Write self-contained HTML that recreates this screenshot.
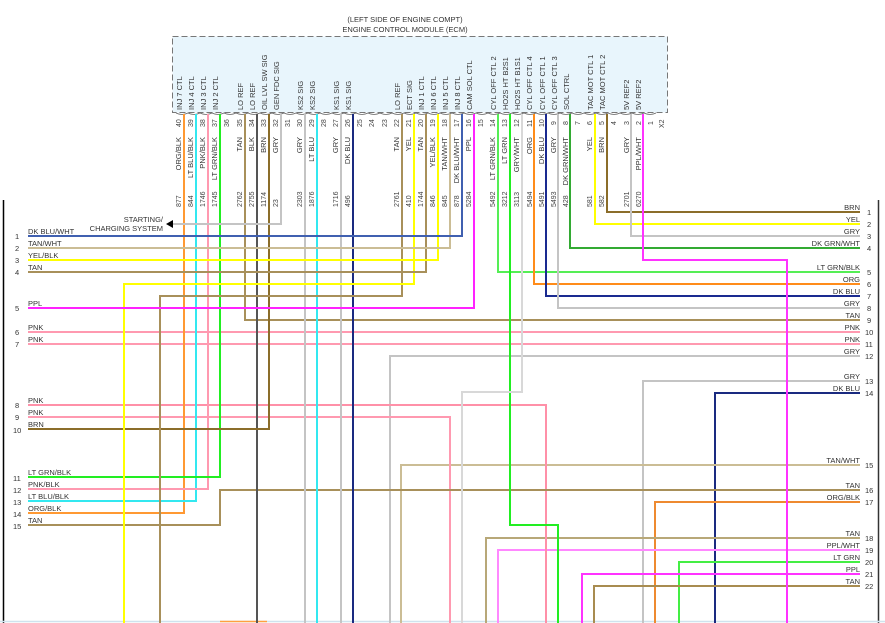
<!DOCTYPE html>
<html><head><meta charset="utf-8"><style>
html,body{margin:0;padding:0;background:#fff;}
svg{display:block;font-family:"Liberation Sans",sans-serif;}
.p{font-size:7.5px;fill:#333;}
.r{font-size:7.5px;fill:#333;}
.n{font-size:7px;fill:#444;}
.w{fill:none;stroke-width:2;}
</style></head><body>
<svg width="885" height="623" viewBox="0 0 885 623" xmlns="http://www.w3.org/2000/svg">
<rect width="885" height="623" fill="#fff"/>
<text x="405" y="22" text-anchor="middle" class="r">(LEFT SIDE OF ENGINE COMPT)</text>
<text x="405" y="32" text-anchor="middle" class="r">ENGINE CONTROL MODULE (ECM)</text>
<rect x="172.5" y="36.5" width="495" height="76" fill="#e8f5fc" stroke="#777" stroke-dasharray="6,3"/>
<line x1="3.5" y1="200" x2="3.5" y2="623" stroke="#000" stroke-width="1.5"/>
<line x1="878.5" y1="200" x2="878.5" y2="623" stroke="#333" stroke-width="1.5"/>
<line x1="0" y1="621.5" x2="885" y2="621.5" stroke="#cfe3ee" stroke-width="1.5"/>
<line x1="220" y1="621.5" x2="267" y2="621.5" stroke="#ffa040" stroke-width="1.5"/>

<!-- pin names -->
<g class="p">
<text transform="translate(182,110) rotate(-90)">INJ 7 CTL</text>
<text transform="translate(194,110) rotate(-90)">INJ 4 CTL</text>
<text transform="translate(206,110) rotate(-90)">INJ 3 CTL</text>
<text transform="translate(218,110) rotate(-90)">INJ 2 CTL</text>
<text transform="translate(243,110) rotate(-90)">LO REF</text>
<text transform="translate(255,110) rotate(-90)">LO REF</text>
<text transform="translate(267,110) rotate(-90)">OIL LVL SW SIG</text>
<text transform="translate(279,110) rotate(-90)">GEN FDC SIG</text>
<text transform="translate(303,110) rotate(-90)">KS2 SIG</text>
<text transform="translate(315,110) rotate(-90)">KS2 SIG</text>
<text transform="translate(339,110) rotate(-90)">KS1 SIG</text>
<text transform="translate(351,110) rotate(-90)">KS1 SIG</text>
<text transform="translate(400,110) rotate(-90)">LO REF</text>
<text transform="translate(412,110) rotate(-90)">ECT SIG</text>
<text transform="translate(424,110) rotate(-90)">INJ 1 CTL</text>
<text transform="translate(436,110) rotate(-90)">INJ 6 CTL</text>
<text transform="translate(448,110) rotate(-90)">INJ 5 CTL</text>
<text transform="translate(460,110) rotate(-90)">INJ 8 CTL</text>
<text transform="translate(472,110) rotate(-90)">CAM SOL CTL</text>
<text transform="translate(496,110) rotate(-90)">CYL OFF CTL 2</text>
<text transform="translate(508,110) rotate(-90)">HO2S HT B2S1</text>
<text transform="translate(520,110) rotate(-90)">HO2S HT B1S1</text>
<text transform="translate(532,110) rotate(-90)">CYL OFF CTL 4</text>
<text transform="translate(545,110) rotate(-90)">CYL OFF CTL 1</text>
<text transform="translate(557,110) rotate(-90)">CYL OFF CTL 3</text>
<text transform="translate(569,110) rotate(-90)">SOL CTRL</text>
<text transform="translate(593,110) rotate(-90)">TAC MOT CTL 1</text>
<text transform="translate(605,110) rotate(-90)">TAC MOT CTL 2</text>
<text transform="translate(629,110) rotate(-90)">5V REF2</text>
<text transform="translate(641,110) rotate(-90)">5V REF2</text>
</g>
<!-- connector arcs -->
<g fill="none" stroke="#666" stroke-width="0.8">
<path d="M176,113 q6,3 12,0 q6,3 12,0 q6,3 12,0 q6,3 12,0 q6,3 12,0 q6,3 12,0 q6,3 12,0 q6,3 12,0 q6,3 12,0 q6,3 12,0 q6,3 12,0 q6,3 12,0 q6,3 12,0 q6,3 12,0 q6,3 12,0 q6,3 12,0 q6,3 12,0 q6,3 12,0 q6,3 12,0 q6,3 12,0 q6,3 12,0 q6,3 12,0 q6,3 12,0 q6,3 12,0 q6,3 12,0 q6,3 12,0 q6,3 12,0 q6,3 12,0 q6,3 12,0 q6,3 12,0 q6,3 12,0 q6,3 12,0 q6,3 12,0 q6,3 12,0 q6,3 12,0 q6,3 12,0 q6,3 12,0 q6,3 12,0 q6,3 12,0 q6,3 12,0"/>
</g>
<!-- pin numbers -->
<g class="n">
<text transform="translate(181,127) rotate(-90)">40</text>
<text transform="translate(193,127) rotate(-90)">39</text>
<text transform="translate(205,127) rotate(-90)">38</text>
<text transform="translate(217,127) rotate(-90)">37</text>
<text transform="translate(229,127) rotate(-90)">36</text>
<text transform="translate(242,127) rotate(-90)">35</text>
<text transform="translate(254,127) rotate(-90)">34</text>
<text transform="translate(266,127) rotate(-90)">33</text>
<text transform="translate(278,127) rotate(-90)">32</text>
<text transform="translate(290,127) rotate(-90)">31</text>
<text transform="translate(302,127) rotate(-90)">30</text>
<text transform="translate(314,127) rotate(-90)">29</text>
<text transform="translate(326,127) rotate(-90)">28</text>
<text transform="translate(338,127) rotate(-90)">27</text>
<text transform="translate(350,127) rotate(-90)">26</text>
<text transform="translate(362,127) rotate(-90)">25</text>
<text transform="translate(374,127) rotate(-90)">24</text>
<text transform="translate(387,127) rotate(-90)">23</text>
<text transform="translate(399,127) rotate(-90)">22</text>
<text transform="translate(411,127) rotate(-90)">21</text>
<text transform="translate(423,127) rotate(-90)">20</text>
<text transform="translate(435,127) rotate(-90)">19</text>
<text transform="translate(447,127) rotate(-90)">18</text>
<text transform="translate(459,127) rotate(-90)">17</text>
<text transform="translate(471,127) rotate(-90)">16</text>
<text transform="translate(483,127) rotate(-90)">15</text>
<text transform="translate(495,127) rotate(-90)">14</text>
<text transform="translate(507,127) rotate(-90)">13</text>
<text transform="translate(519,127) rotate(-90)">12</text>
<text transform="translate(532,127) rotate(-90)">11</text>
<text transform="translate(544,127) rotate(-90)">10</text>
<text transform="translate(556,125) rotate(-90)">9</text>
<text transform="translate(568,125) rotate(-90)">8</text>
<text transform="translate(580,125) rotate(-90)">7</text>
<text transform="translate(592,125) rotate(-90)">6</text>
<text transform="translate(604,125) rotate(-90)">5</text>
<text transform="translate(616,125) rotate(-90)">4</text>
<text transform="translate(629,125) rotate(-90)">3</text>
<text transform="translate(641,125) rotate(-90)">2</text>
<text transform="translate(653,125) rotate(-90)">1</text>
<text transform="translate(664,128) rotate(-90)">X2</text>
</g>
<!-- wire color labels (end aligned at top y=137) -->
<g class="p" text-anchor="end">
<text transform="translate(181,137) rotate(-90)">ORG/BLK</text>
<text transform="translate(193,137) rotate(-90)">LT BLU/BLK</text>
<text transform="translate(205,137) rotate(-90)">PNK/BLK</text>
<text transform="translate(217,137) rotate(-90)">LT GRN/BLK</text>
<text transform="translate(242,137) rotate(-90)">TAN</text>
<text transform="translate(254,137) rotate(-90)">BLK</text>
<text transform="translate(266,137) rotate(-90)">BRN</text>
<text transform="translate(278,137) rotate(-90)">GRY</text>
<text transform="translate(302,137) rotate(-90)">GRY</text>
<text transform="translate(314,137) rotate(-90)">LT BLU</text>
<text transform="translate(338,137) rotate(-90)">GRY</text>
<text transform="translate(350,137) rotate(-90)">DK BLU</text>
<text transform="translate(399,137) rotate(-90)">TAN</text>
<text transform="translate(411,137) rotate(-90)">YEL</text>
<text transform="translate(423,137) rotate(-90)">TAN</text>
<text transform="translate(435,137) rotate(-90)">YEL/BLK</text>
<text transform="translate(447,137) rotate(-90)">TAN/WHT</text>
<text transform="translate(459,137) rotate(-90)">DK BLU/WHT</text>
<text transform="translate(471,137) rotate(-90)">PPL</text>
<text transform="translate(495,137) rotate(-90)">LT GRN/BLK</text>
<text transform="translate(507,137) rotate(-90)">LT GRN</text>
<text transform="translate(519,137) rotate(-90)">GRY/WHT</text>
<text transform="translate(532,137) rotate(-90)">ORG</text>
<text transform="translate(544,137) rotate(-90)">DK BLU</text>
<text transform="translate(556,137) rotate(-90)">GRY</text>
<text transform="translate(568,137) rotate(-90)">DK GRN/WHT</text>
<text transform="translate(592,137) rotate(-90)">YEL</text>
<text transform="translate(604,137) rotate(-90)">BRN</text>
<text transform="translate(629,137) rotate(-90)">GRY</text>
<text transform="translate(641,137) rotate(-90)">PPL/WHT</text>
</g>
<!-- circuit numbers -->
<g class="n">
<text transform="translate(181,207) rotate(-90)">877</text>
<text transform="translate(193,207) rotate(-90)">844</text>
<text transform="translate(205,207) rotate(-90)">1746</text>
<text transform="translate(217,207) rotate(-90)">1745</text>
<text transform="translate(242,207) rotate(-90)">2762</text>
<text transform="translate(254,207) rotate(-90)">2755</text>
<text transform="translate(266,207) rotate(-90)">1174</text>
<text transform="translate(278,207) rotate(-90)">23</text>
<text transform="translate(302,207) rotate(-90)">2303</text>
<text transform="translate(314,207) rotate(-90)">1876</text>
<text transform="translate(338,207) rotate(-90)">1716</text>
<text transform="translate(350,207) rotate(-90)">496</text>
<text transform="translate(399,207) rotate(-90)">2761</text>
<text transform="translate(411,207) rotate(-90)">410</text>
<text transform="translate(423,207) rotate(-90)">1744</text>
<text transform="translate(435,207) rotate(-90)">846</text>
<text transform="translate(447,207) rotate(-90)">845</text>
<text transform="translate(459,207) rotate(-90)">878</text>
<text transform="translate(471,207) rotate(-90)">5284</text>
<text transform="translate(495,207) rotate(-90)">5492</text>
<text transform="translate(507,207) rotate(-90)">3212</text>
<text transform="translate(519,207) rotate(-90)">3113</text>
<text transform="translate(532,207) rotate(-90)">5494</text>
<text transform="translate(544,207) rotate(-90)">5491</text>
<text transform="translate(556,207) rotate(-90)">5493</text>
<text transform="translate(568,207) rotate(-90)">428</text>
<text transform="translate(592,207) rotate(-90)">581</text>
<text transform="translate(604,207) rotate(-90)">582</text>
<text transform="translate(629,207) rotate(-90)">2701</text>
<text transform="translate(641,207) rotate(-90)">6270</text>
</g>

<!-- wires -->
<g class="w">
<!-- right-row wires ending at bottom / from right -->
<polyline points="860,356 390,356 390,623" stroke="#c4c4c4"/>
<polyline points="860,381 643,381 643,623" stroke="#c4c4c4"/>
<polyline points="860,393 715,393 715,623" stroke="#1a2a80"/>
<polyline points="860,465 401,465 401,623" stroke="#cbbd95"/>
<polyline points="860,502 655,502 655,623" stroke="#ee8a30"/>
<polyline points="860,538 486,538 486,623" stroke="#b8a878"/>
<polyline points="860,550 498,550 498,623" stroke="#ff88ff"/>
<polyline points="860,562 679,562 679,623" stroke="#44ee44"/>
<polyline points="860,574 582,574 582,623" stroke="#ff33ff"/>
<polyline points="860,586 594,586 594,623" stroke="#a88c50"/>
<!-- left rows -->
<polyline points="28,332 860,332" stroke="#ff99b0"/>
<polyline points="28,344 860,344" stroke="#ff99b0"/>
<polyline points="28,405 546,405 546,623" stroke="#ff90a8"/>
<polyline points="28,417 450,417 450,623" stroke="#ff99b0"/>
<polyline points="28,525 220,525 220,490 860,490" stroke="#a8905a"/>
<!-- pin wires -->
<polyline points="184,114 184,513 28,513" stroke="#ff9933"/>
<polyline points="196,114 196,501 28,501" stroke="#33e8f0"/>
<polyline points="208,114 208,489 28,489" stroke="#ff99b0"/>
<polyline points="220,114 220,477 28,477" stroke="#22ee22"/>
<polyline points="245,114 245,320 860,320" stroke="#a8905a"/>
<polyline points="257,114 257,623" stroke="#555"/>
<polyline points="269,114 269,429 28,429" stroke="#8b6d2a"/>
<polyline points="281,114 281,224 172,224" stroke="#c4c4c4"/>
<polyline points="305,114 305,623" stroke="#c4c4c4"/>
<polyline points="317,114 317,623" stroke="#33e8f0"/>
<polyline points="341,114 341,623" stroke="#c4c4c4"/>
<polyline points="353,114 353,623" stroke="#1a2a80"/>
<polyline points="402,114 402,296 160,296 160,623" stroke="#a8905a"/>
<polyline points="414,114 414,284 124,284 124,623" stroke="#ffff00"/>
<polyline points="426,114 426,272 28,272" stroke="#a8905a"/>
<polyline points="438,114 438,260 28,260" stroke="#ffff00"/>
<polyline points="450,114 450,248 28,248" stroke="#cbbd95"/>
<polyline points="462,114 462,236 28,236" stroke="#4060b0"/>
<polyline points="474,114 474,308 28,308" stroke="#ff22ff"/>
<polyline points="498,114 498,272 860,272" stroke="#55ee55"/>
<polyline points="510,114 510,525 558,525 558,623" stroke="#22ee22"/>
<polyline points="522,114 522,392 462,392 462,623" stroke="#d8d8d8"/>
<polyline points="534,114 534,284 860,284" stroke="#ff8c1a"/>
<polyline points="546,114 546,296 860,296" stroke="#1a2a90"/>
<polyline points="558,114 558,308 860,308" stroke="#c4c4c4"/>
<polyline points="570,114 570,248 860,248" stroke="#33aa33"/>
<polyline points="595,114 595,224 860,224" stroke="#ffff00"/>
<polyline points="607,114 607,212 860,212" stroke="#8b6d2a"/>
<polyline points="631,114 631,236 860,236" stroke="#c4c4c4"/>
<polyline points="643,114 643,260 787,260 787,623" stroke="#ff33ff"/>
</g>
<polygon points="166,224 173,220 173,228" fill="#000"/>
<text x="163" y="222" text-anchor="end" class="r">STARTING/</text>
<text x="163" y="231" text-anchor="end" class="r">CHARGING SYSTEM</text>

<!-- left labels -->
<g class="r">
<text x="28" y="234">DK BLU/WHT</text><text x="15" y="239">1</text>
<text x="28" y="246">TAN/WHT</text><text x="15" y="251">2</text>
<text x="28" y="258">YEL/BLK</text><text x="15" y="263">3</text>
<text x="28" y="270">TAN</text><text x="15" y="275">4</text>
<text x="28" y="306">PPL</text><text x="15" y="311">5</text>
<text x="28" y="330">PNK</text><text x="15" y="335">6</text>
<text x="28" y="342">PNK</text><text x="15" y="347">7</text>
<text x="28" y="403">PNK</text><text x="15" y="408">8</text>
<text x="28" y="415">PNK</text><text x="15" y="420">9</text>
<text x="28" y="427">BRN</text><text x="13" y="433">10</text>
<text x="28" y="475">LT GRN/BLK</text><text x="13" y="481">11</text>
<text x="28" y="487">PNK/BLK</text><text x="13" y="493">12</text>
<text x="28" y="499">LT BLU/BLK</text><text x="13" y="505">13</text>
<text x="28" y="511">ORG/BLK</text><text x="13" y="517">14</text>
<text x="28" y="523">TAN</text><text x="13" y="529">15</text>
</g>
<!-- right labels -->
<g class="r" text-anchor="end">
<text x="860" y="210">BRN</text>
<text x="860" y="222">YEL</text>
<text x="860" y="234">GRY</text>
<text x="860" y="246">DK GRN/WHT</text>
<text x="860" y="270">LT GRN/BLK</text>
<text x="860" y="282">ORG</text>
<text x="860" y="294">DK BLU</text>
<text x="860" y="306">GRY</text>
<text x="860" y="318">TAN</text>
<text x="860" y="330">PNK</text>
<text x="860" y="342">PNK</text>
<text x="860" y="354">GRY</text>
<text x="860" y="379">GRY</text>
<text x="860" y="391">DK BLU</text>
<text x="860" y="463">TAN/WHT</text>
<text x="860" y="488">TAN</text>
<text x="860" y="500">ORG/BLK</text>
<text x="860" y="536">TAN</text>
<text x="860" y="548">PPL/WHT</text>
<text x="860" y="560">LT GRN</text>
<text x="860" y="572">PPL</text>
<text x="860" y="584">TAN</text>
</g>
<g class="r">
<text x="867" y="215">1</text><text x="867" y="227">2</text><text x="867" y="239">3</text><text x="867" y="251">4</text>
<text x="867" y="275">5</text><text x="867" y="287">6</text><text x="867" y="299">7</text><text x="867" y="311">8</text>
<text x="867" y="323">9</text><text x="865" y="335">10</text><text x="865" y="347">11</text><text x="865" y="359">12</text>
<text x="865" y="384">13</text><text x="865" y="396">14</text><text x="865" y="468">15</text><text x="865" y="493">16</text>
<text x="865" y="505">17</text><text x="865" y="541">18</text><text x="865" y="553">19</text><text x="865" y="565">20</text>
<text x="865" y="577">21</text><text x="865" y="589">22</text>
</g>
</svg>
</body></html>
